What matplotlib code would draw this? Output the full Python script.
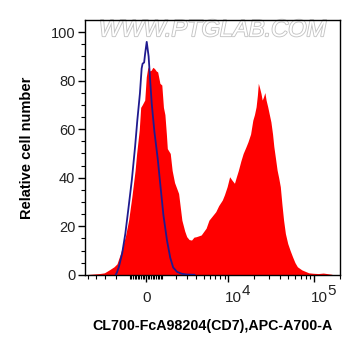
import numpy as np
import matplotlib
matplotlib.use('Agg')
import matplotlib.pyplot as plt
import matplotlib.patheffects as pe
from matplotlib.transforms import offset_copy

plt.rcParams['font.family'] = ['Liberation Sans', 'DejaVu Sans']

# display scale (biexponential-like): position = asinh(v / W) / ln(10)
W = 2245.0

def to_disp(v):
    return np.arcsinh(np.asarray(v, dtype=float) / W) / np.log(10)

# histogram values, x given in display units (0 -> value 0, 0.955 -> 1e4)
red_x = [-0.708, -0.652, -0.539, -0.483, -0.427, -0.371, -0.337, -0.296, -0.270,
         -0.240, -0.202, -0.165, -0.127, -0.109, -0.079, -0.062, -0.045, -0.015,
         0.003, 0.022, 0.039, 0.060, 0.079, 0.098, 0.118, 0.135, 0.161, 0.183,
         0.202, 0.219, 0.236, 0.247, 0.281, 0.303, 0.331, 0.378, 0.416, 0.449,
         0.472, 0.500, 0.528, 0.556, 0.584, 0.640, 0.697, 0.730, 0.764, 0.809,
         0.843, 0.885, 0.910, 0.941, 0.970, 0.997, 1.026, 1.045, 1.071, 1.101,
         1.127, 1.157, 1.183, 1.213, 1.239, 1.258, 1.277, 1.292, 1.303, 1.318,
         1.334, 1.348, 1.363, 1.379, 1.393, 1.412, 1.431, 1.449, 1.468, 1.483,
         1.502, 1.521, 1.539, 1.558, 1.577, 1.596, 1.617, 1.644, 1.672, 1.700,
         1.728, 1.756, 1.808, 1.888, 1.944, 2.000, 2.056, 2.157]
red_y = [0.0, 0.2, 0.5, 0.8, 2.0, 3.3, 4.5, 8.8, 12.0,
         15.7, 22.5, 32.0, 43.0, 50.0, 59.6, 69.0, 70.0, 72.0,
         81.6, 85.7, 84.0, 84.3, 85.5, 85.0, 84.0, 83.6, 78.9, 78.2,
         69.0, 66.0, 58.0, 52.0, 50.0, 43.0, 38.0, 33.5, 22.5, 18.0,
         15.7, 14.5, 14.3, 15.5, 15.7, 16.4, 19.2, 22.5, 24.0, 26.0,
         28.5, 30.8, 33.0, 36.3, 40.4, 39.0, 37.7, 40.0, 43.0, 47.0,
         50.0, 52.5, 54.8, 58.0, 63.7, 66.0, 69.2, 74.0, 78.9, 77.0,
         74.7, 72.0, 73.3, 75.1, 72.0, 69.2, 66.0, 63.0, 58.0, 52.8,
         48.0, 43.1, 40.0, 36.3, 29.0, 22.5, 17.0, 12.9, 10.0, 7.4,
         5.0, 3.3, 2.0, 0.8, 0.6, 0.5, 0.7, 0.2]

blue_x = [-0.352, -0.337, -0.315, -0.277, -0.240, -0.202, -0.165, -0.127, -0.101,
          -0.071, -0.051, -0.040, -0.022, -0.011, 0.008, 0.030, 0.048, 0.066,
          0.097, 0.135, 0.169, 0.202, 0.243, 0.281, 0.315, 0.360, 0.416, 0.472,
          0.562]
blue_y = [0.0, 1.0, 3.3, 8.8, 17.0, 28.0, 39.0, 52.8, 63.7,
          74.7, 85.0, 87.0, 87.5, 91.0, 96.0, 90.0, 80.0, 70.6,
          59.0, 48.0, 36.0, 24.5, 14.2, 7.0, 3.0, 1.2, 0.4, 0.1,
          0.0]

yticks = [0, 20, 40, 60, 80, 100]
xtick_vals = [0, 1e4, 1e5]
xtick_base = ['0', '10', '10']
xtick_exp = ['', '4', '5']
minor_vals = ([-5000, -4000, -3000, -2000, -1000]
              + list(range(-900, 1000, 100))
              + list(range(1000, 10000, 1000))
              + list(range(20000, 100000, 10000)) + [200000])

fig = plt.figure(figsize=(3.61, 3.56), dpi=100)
ax = fig.add_axes([0.2355, 0.2275, 0.7064, 0.7163])

ax.fill_between(red_x, red_y, 0, color='#ff0000', lw=0, zorder=2)
ax.plot(blue_x, blue_y, color='#1f1a8f', lw=1.3, zorder=3)

ax.set_xlim(-0.708, 2.157)
ax.set_ylim(-0.1, 105)

ax.set_yticks(yticks)
ax.set_yticks(np.arange(0, 101, 5), minor=True)
ax.set_xticks(to_disp(xtick_vals))
ax.set_xticklabels([])
ax.set_xticks(to_disp(minor_vals), minor=True)

ax.tick_params(axis='both', which='major', direction='out', length=5, width=1,
               labelsize=10.5, colors='black', labelcolor='#222222')
ax.tick_params(axis='both', which='minor', direction='out', length=3, width=0.8)
ax.tick_params(axis='y', which='major', pad=2)
for s in ax.spines.values():
    s.set_linewidth(1)

# x tick labels, with full-size exponents as in the original software
trans = ax.get_xaxis_transform()
for v, b, e in zip(xtick_vals, xtick_base, xtick_exp):
    xd = float(to_disp(v))
    if e:
        ax.text(xd, 0, b, transform=offset_copy(trans, fig, x=-3, y=-27, units='dots'),
                ha='left', va='baseline', fontsize=11, color='#222222')
        ax.text(xd, 0, e, transform=offset_copy(trans, fig, x=13, y=-20, units='dots'),
                ha='left', va='baseline', fontsize=11, color='#222222')
    else:
        ax.text(xd, 0, b, transform=offset_copy(trans, fig, x=1, y=-27, units='dots'),
                ha='center', va='baseline', fontsize=11, color='#222222')

ax.set_ylabel('Relative cell number', fontsize=10.5, fontweight='bold', labelpad=12)
ax.set_xlabel('CL700-FcA98204(CD7),APC-A700-A', fontsize=10.3,
              fontweight='bold', labelpad=23)

ax.text(0.50, 0.962, 'WWW.PTGLAB.COM', transform=ax.transAxes, ha='center',
        va='center', fontsize=17, fontstyle='italic', color='white', zorder=1,
        path_effects=[pe.withStroke(linewidth=1.3, foreground='#c4c4c4')])

fig.savefig('out.png', dpi=100)
